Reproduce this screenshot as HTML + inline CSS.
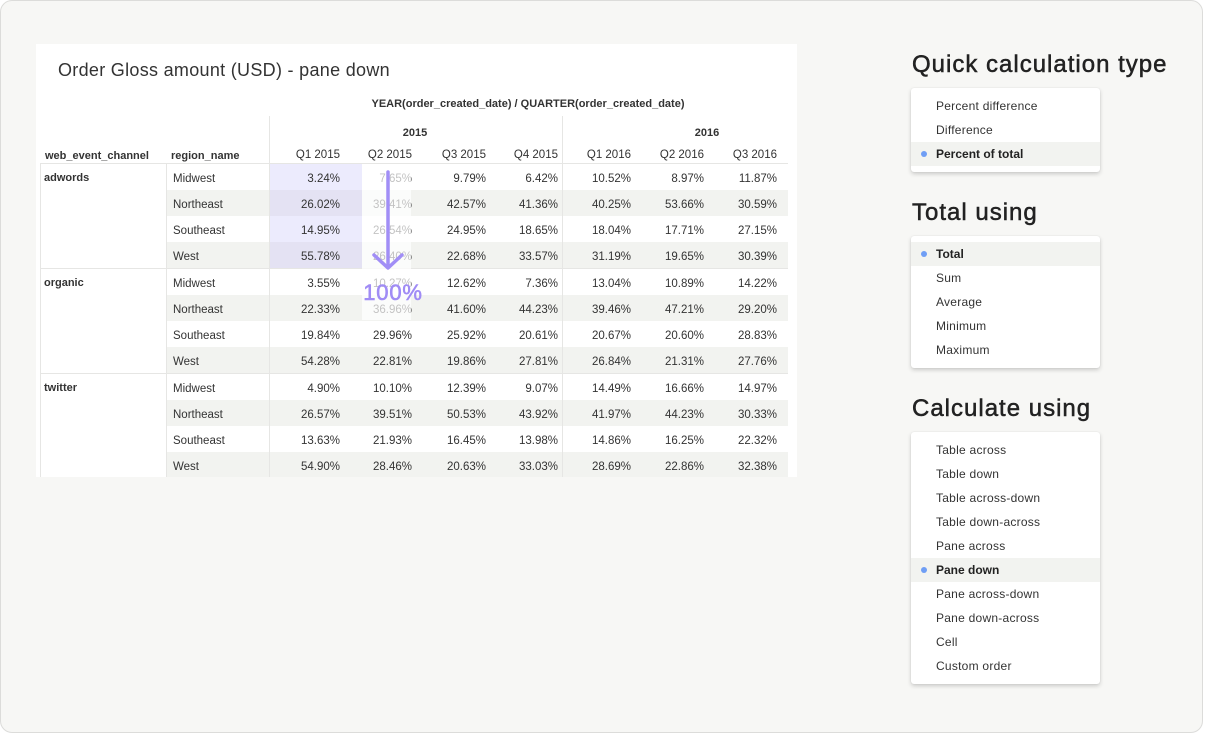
<!DOCTYPE html>
<html><head><meta charset="utf-8">
<style>
*{margin:0;padding:0;box-sizing:border-box}
html,body{width:1206px;height:734px;background:#fff;overflow:hidden;font-family:"Liberation Sans",Arial,sans-serif;color:#333}
#frame{position:absolute;left:0;top:0;width:1203px;height:733px;border:1px solid #dcdcda;border-radius:12px;background:#f7f7f5}
#panel{position:absolute;left:36px;top:44px;width:761px;height:433px;background:#fff;overflow:hidden}
.a{position:absolute}
.title{left:58px;top:60px;font-size:18px;line-height:20px;color:#333;white-space:nowrap;letter-spacing:0.3px}
.hl{position:absolute;background:#e6e6e4}
.r{position:absolute;left:0;width:1206px;height:26px;line-height:26px;font-size:11.5px;color:#333}
.r i{position:absolute;top:2px;font-style:normal;width:70px;text-align:right;white-space:nowrap}
.r b{position:absolute;top:2px;left:173px;font-weight:normal;white-space:nowrap}
.r .ch{position:absolute;left:44px;font-weight:bold;font-size:11px;top:1px}
.st{position:absolute;left:167px;width:621px;top:0;height:26px;background:#f2f3f0}
.pu1{position:absolute;left:270px;width:92px;top:0;height:26px;background:#ecebfd}
.pu2{position:absolute;left:270px;width:92px;top:0;height:26px;background:#e4e2f3}
.hd{position:absolute;font-size:11px;font-weight:bold;line-height:14px;white-space:nowrap;color:#333}
.qh{position:absolute;top:148px;width:70px;text-align:right;font-size:11.5px;line-height:14px;white-space:nowrap}
.h2{position:absolute;left:912px;font-size:24px;line-height:24px;color:#222;-webkit-text-stroke:0.5px #222;white-space:nowrap;letter-spacing:1px}
.box{position:absolute;left:911px;width:189px;background:#fff;border-radius:3px;box-shadow:0 2px 4px rgba(0,0,0,0.18),0 0 1px rgba(0,0,0,0.12);padding-top:6px}
.it{position:relative;height:24px;line-height:24px;font-size:12px;padding-left:25px;color:#333;white-space:nowrap;letter-spacing:0.25px}
.it.sel{background:#f2f3f0;font-weight:bold;color:#222;letter-spacing:0}
.it.sel:before{content:"";position:absolute;left:10px;top:9px;width:6px;height:6px;border-radius:50%;background:#6f9ef5}
</style></head><body>
<div id="frame"></div>
<div id="panel"></div>

<div class="a title">Order Gloss amount (USD) - pane down</div>

<div class="hd" style="left:328px;top:97px;width:400px;text-align:center">YEAR(order_created_date) / QUARTER(order_created_date)</div>
<div class="hd" style="left:385px;top:126px;width:60px;text-align:center">2015</div>
<div class="hd" style="left:677px;top:126px;width:60px;text-align:center">2016</div>
<div class="hd" style="left:45px;top:149px">web_event_channel</div>
<div class="hd" style="left:171px;top:149px">region_name</div>
<div class="qh" style="left:270px">Q1 2015</div>
<div class="qh" style="left:342px">Q2 2015</div>
<div class="qh" style="left:416px">Q3 2015</div>
<div class="qh" style="left:488px">Q4 2015</div>
<div class="qh" style="left:561px">Q1 2016</div>
<div class="qh" style="left:634px">Q2 2016</div>
<div class="qh" style="left:707px">Q3 2016</div>

<!-- adwords -->
<div class="r" style="top:164px"><div class="pu1"></div><span class="ch">adwords</span><b>Midwest</b><i style="left:270px">3.24%</i><i style="left:342px">7.65%</i><i style="left:416px">9.79%</i><i style="left:488px">6.42%</i><i style="left:561px">10.52%</i><i style="left:634px">8.97%</i><i style="left:707px">11.87%</i></div>
<div class="r" style="top:190px"><div class="st"></div><div class="pu2"></div><b>Northeast</b><i style="left:270px">26.02%</i><i style="left:342px">39.41%</i><i style="left:416px">42.57%</i><i style="left:488px">41.36%</i><i style="left:561px">40.25%</i><i style="left:634px">53.66%</i><i style="left:707px">30.59%</i></div>
<div class="r" style="top:216px"><div class="pu1"></div><b>Southeast</b><i style="left:270px">14.95%</i><i style="left:342px">26.54%</i><i style="left:416px">24.95%</i><i style="left:488px">18.65%</i><i style="left:561px">18.04%</i><i style="left:634px">17.71%</i><i style="left:707px">27.15%</i></div>
<div class="r" style="top:242px"><div class="st"></div><div class="pu2"></div><b>West</b><i style="left:270px">55.78%</i><i style="left:342px">26.40%</i><i style="left:416px">22.68%</i><i style="left:488px">33.57%</i><i style="left:561px">31.19%</i><i style="left:634px">19.65%</i><i style="left:707px">30.39%</i></div>
<!-- organic -->
<div class="r" style="top:269px"><span class="ch">organic</span><b>Midwest</b><i style="left:270px">3.55%</i><i style="left:342px">10.27%</i><i style="left:416px">12.62%</i><i style="left:488px">7.36%</i><i style="left:561px">13.04%</i><i style="left:634px">10.89%</i><i style="left:707px">14.22%</i></div>
<div class="r" style="top:295px"><div class="st"></div><b>Northeast</b><i style="left:270px">22.33%</i><i style="left:342px">36.96%</i><i style="left:416px">41.60%</i><i style="left:488px">44.23%</i><i style="left:561px">39.46%</i><i style="left:634px">47.21%</i><i style="left:707px">29.20%</i></div>
<div class="r" style="top:321px"><b>Southeast</b><i style="left:270px">19.84%</i><i style="left:342px">29.96%</i><i style="left:416px">25.92%</i><i style="left:488px">20.61%</i><i style="left:561px">20.67%</i><i style="left:634px">20.60%</i><i style="left:707px">28.83%</i></div>
<div class="r" style="top:347px"><div class="st"></div><b>West</b><i style="left:270px">54.28%</i><i style="left:342px">22.81%</i><i style="left:416px">19.86%</i><i style="left:488px">27.81%</i><i style="left:561px">26.84%</i><i style="left:634px">21.31%</i><i style="left:707px">27.76%</i></div>
<!-- twitter -->
<div class="r" style="top:374px"><span class="ch">twitter</span><b>Midwest</b><i style="left:270px">4.90%</i><i style="left:342px">10.10%</i><i style="left:416px">12.39%</i><i style="left:488px">9.07%</i><i style="left:561px">14.49%</i><i style="left:634px">16.66%</i><i style="left:707px">14.97%</i></div>
<div class="r" style="top:400px"><div class="st"></div><b>Northeast</b><i style="left:270px">26.57%</i><i style="left:342px">39.51%</i><i style="left:416px">50.53%</i><i style="left:488px">43.92%</i><i style="left:561px">41.97%</i><i style="left:634px">44.23%</i><i style="left:707px">30.33%</i></div>
<div class="r" style="top:426px"><b>Southeast</b><i style="left:270px">13.63%</i><i style="left:342px">21.93%</i><i style="left:416px">16.45%</i><i style="left:488px">13.98%</i><i style="left:561px">14.86%</i><i style="left:634px">16.25%</i><i style="left:707px">22.32%</i></div>
<div class="r" style="top:452px;height:25px;overflow:hidden"><div class="st" style="height:25px"></div><b>West</b><i style="left:270px">54.90%</i><i style="left:342px">28.46%</i><i style="left:416px">20.63%</i><i style="left:488px">33.03%</i><i style="left:561px">28.69%</i><i style="left:634px">22.86%</i><i style="left:707px">32.38%</i></div>

<!-- grid lines -->
<div class="hl" style="left:40px;top:163px;width:748px;height:1px"></div>
<div class="hl" style="left:40px;top:268px;width:748px;height:1px"></div>
<div class="hl" style="left:40px;top:373px;width:748px;height:1px"></div>
<div class="hl" style="left:40px;top:163px;width:1px;height:314px"></div>
<div class="hl" style="left:166px;top:163px;width:1px;height:314px"></div>
<div class="hl" style="left:269px;top:116px;width:1px;height:361px"></div>
<div class="hl" style="left:562px;top:116px;width:1px;height:361px"></div>

<!-- fade overlay -->
<div class="a" style="left:362px;top:164px;width:49px;height:156px;background:rgba(255,255,255,0.7)"></div>

<!-- arrow -->
<svg class="a" style="left:0;top:0" width="1206" height="734" viewBox="0 0 1206 734">
<line x1="388" y1="172" x2="388" y2="266" stroke="#a18ef6" stroke-width="3.5" stroke-linecap="round"/>
<polyline points="374,255 388,268 402,255" fill="none" stroke="#a18ef6" stroke-width="3.5" stroke-linecap="round" stroke-linejoin="round"/>
</svg>
<div class="a" style="left:343px;top:281px;width:100px;text-align:center;font-size:22px;line-height:24px;color:#a08cf5;-webkit-text-stroke:0.6px #a08cf5;letter-spacing:0.8px">100%</div>

<!-- right panel -->
<div class="h2" style="top:53px">Quick calculation type</div>
<div class="box" style="top:88px;height:84px">
<div class="it">Percent difference</div>
<div class="it">Difference</div>
<div class="it sel">Percent of total</div>
</div>

<div class="h2" style="top:201px">Total using</div>
<div class="box" style="top:236px;height:132px">
<div class="it sel">Total</div>
<div class="it">Sum</div>
<div class="it">Average</div>
<div class="it">Minimum</div>
<div class="it">Maximum</div>
</div>

<div class="h2" style="top:397px">Calculate using</div>
<div class="box" style="top:432px;height:252px">
<div class="it">Table across</div>
<div class="it">Table down</div>
<div class="it">Table across-down</div>
<div class="it">Table down-across</div>
<div class="it">Pane across</div>
<div class="it sel">Pane down</div>
<div class="it">Pane across-down</div>
<div class="it">Pane down-across</div>
<div class="it">Cell</div>
<div class="it">Custom order</div>
</div>
</body></html>
